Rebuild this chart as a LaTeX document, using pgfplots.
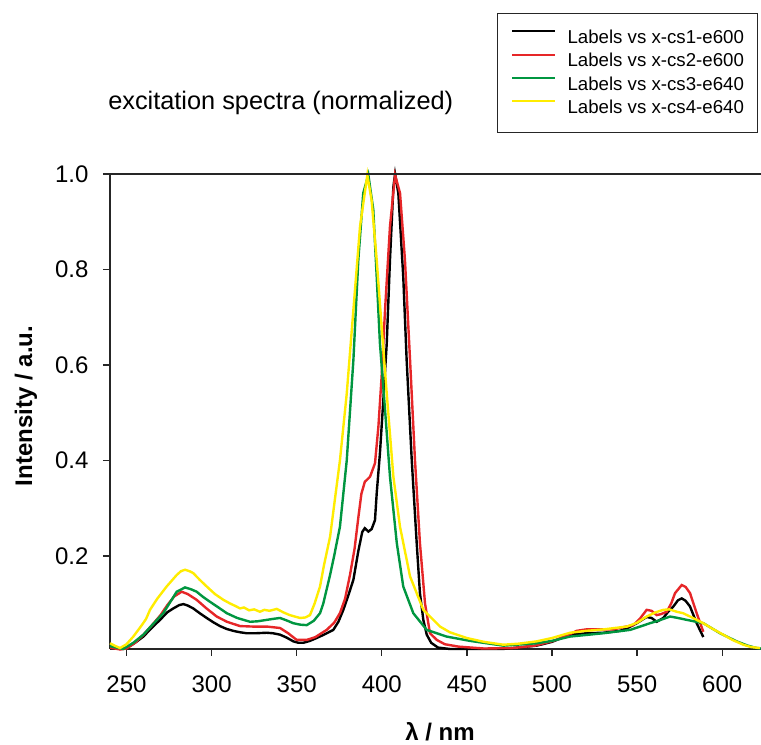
\documentclass[border=0pt]{standalone}
\usepackage{fontspec}
\setmainfont{Liberation Sans}
\usepackage{pgfplots}
\usepackage{pgfplotstable}
\pgfplotsset{compat=1.18}
\definecolor{cred}{RGB}{230,38,40}
\definecolor{cgreen}{RGB}{0,150,64}
\definecolor{cyellow}{RGB}{255,236,0}

\pgfplotstableread{
x y
240.3 0.010
246.2 0.005
250.1 0.007
255 0.018
259.9 0.031
265 0.050
269.7 0.066
274 0.082
277.5 0.090
281 0.097
283.4 0.099
286 0.096
289.2 0.090
293 0.080
297.1 0.070
301 0.061
304.9 0.053
308.8 0.047
312.7 0.043
316.7 0.040
320.6 0.038
326 0.038
332.4 0.039
336 0.038
340.2 0.035
344 0.029
348 0.021
351 0.018
353.9 0.018
357.8 0.022
361.7 0.028
366 0.035
371.5 0.045
374.5 0.062
377.4 0.087
380.4 0.118
383.3 0.150
386.2 0.210
388.5 0.250
390 0.258
392.1 0.251
394 0.256
396 0.275
397 0.331
398.9 0.415
400.9 0.527
402.9 0.645
404.8 0.820
406.8 0.973
407.8 1.000
409.7 0.960
412.6 0.785
414.6 0.610
417.6 0.400
420.5 0.227
422.4 0.122
424.4 0.066
426.4 0.035
429 0.018
433 0.008
440 0.005
452 0.005
471 0.005
491 0.012
500 0.020
510.6 0.035
520.4 0.038
530.1 0.039
540 0.043
545 0.050
549.8 0.059
555.6 0.072
558.5 0.070
561.5 0.062
565.4 0.070
568 0.082
571.3 0.094
574 0.107
576.2 0.111
578.5 0.106
581.1 0.094
585 0.059
588.9 0.030
}\csone

\pgfplotstableread{
x y
240.3 0.008
246.2 0.004
250 0.006
255 0.018
260 0.035
265 0.055
270 0.076
274 0.097
278 0.115
282.4 0.125
286 0.120
291.2 0.108
297 0.090
303 0.073
309 0.062
316.7 0.053
324 0.052
332.4 0.052
340.2 0.049
345 0.038
350 0.024
355.9 0.024
361 0.030
367.6 0.045
372 0.060
375.4 0.080
378.4 0.110
381.3 0.160
384 0.215
386.2 0.280
388 0.330
390 0.355
393.1 0.366
396 0.394
398 0.471
399.9 0.576
401.9 0.715
404.8 0.890
407.8 0.998
410.7 0.960
413.6 0.820
416.6 0.610
419.5 0.400
422.4 0.227
425.4 0.100
428.3 0.038
432.3 0.024
437 0.015
445 0.010
460 0.006
477.3 0.007
490 0.012
500.8 0.022
508 0.032
514.5 0.043
520 0.046
526.2 0.046
536 0.046
541 0.050
547.8 0.055
552 0.070
555.6 0.087
558.5 0.085
561.5 0.076
564 0.078
567.4 0.083
570 0.100
572.3 0.122
576.2 0.139
578.5 0.135
581.1 0.122
585 0.080
588.9 0.041
}\cstwo

\pgfplotstableread{
x y
240.3 0.011
244 0.008
248.1 0.005
254 0.018
259.9 0.035
265 0.055
271.6 0.080
276 0.105
279.5 0.125
284.4 0.134
288 0.130
291.2 0.125
295 0.114
299 0.104
304 0.092
308.9 0.080
315 0.070
322.6 0.062
327 0.063
332.4 0.066
336 0.068
340.2 0.070
344 0.065
348 0.059
352 0.056
355.9 0.055
360 0.064
363.7 0.080
365.6 0.100
369.6 0.160
372 0.200
375.4 0.261
379.4 0.400
383.3 0.610
386.2 0.820
389.1 0.960
392.1 0.998
395 0.925
397 0.785
398.9 0.645
401.9 0.506
404.8 0.366
408.8 0.227
412.6 0.136
418.5 0.080
426.4 0.045
438.1 0.031
451.8 0.022
471.4 0.012
491 0.017
500 0.022
510.6 0.031
530.1 0.038
545.9 0.045
557.6 0.059
563 0.065
569.4 0.073
574 0.070
579.2 0.066
588.9 0.059
598.7 0.038
608.5 0.021
615 0.012
620.3 0.007
622.8 0.006
}\csthree

\pgfplotstableread{
x y
240.3 0.017
243 0.012
246.2 0.007
250 0.015
254 0.031
259 0.055
261.5 0.068
263.8 0.087
268 0.110
273.6 0.136
279.5 0.160
282 0.168
284.4 0.171
287 0.168
289.2 0.164
293 0.150
297.1 0.136
302 0.120
306.9 0.108
311 0.100
314 0.095
316.7 0.090
319 0.092
322 0.086
325 0.088
328.4 0.083
331 0.087
334 0.085
338.3 0.089
342 0.082
345.9 0.076
351.9 0.070
355 0.071
357.8 0.076
360.5 0.100
363.7 0.136
366 0.180
369.6 0.240
372.5 0.320
375.4 0.400
379.4 0.540
383.3 0.715
387.2 0.890
391.5 0.998
394 0.945
397 0.820
399.9 0.680
402.9 0.540
406.8 0.366
410.7 0.261
416.6 0.157
424.4 0.087
434.2 0.052
440 0.040
449.9 0.028
460 0.020
471.4 0.014
480 0.016
491 0.021
500 0.028
510.6 0.039
520 0.043
530.1 0.046
537 0.049
544 0.052
550 0.060
555.6 0.073
561 0.082
565.4 0.087
569 0.088
573.3 0.083
577 0.080
581.1 0.073
588.9 0.059
594 0.048
600.6 0.035
606 0.024
612.4 0.014
617 0.009
622.2 0.007
}\csfour

\begin{document}
\begin{tikzpicture}
\path[use as bounding box] (0,0) rectangle (570.75pt,558.75pt);
\begin{axis}[
  at={(82.5pt,72pt)}, anchor=south west,
  scale only axis, width=488.25pt, height=356.25pt,
  xmin=240.3, xmax=622.8, ymin=0.005, ymax=1.0,
  clip=false,
  axis x line*=bottom, axis y line*=left,
  axis line style={line width=1.1pt, black!85},
  xtick={250,300,350,400,450,500,550,600},
  xticklabels={250,300,350,400,450,500,550,600},
  ytick={0.2,0.4,0.6,0.8,1.0},
  yticklabels={0.2,0.4,0.6,0.8,1.0},
  /pgf/number format/assume math mode=true,
  tick align=outside, major tick length=5.25pt,
  tick style={line width=1pt, black!85},
  tick label style={font=\fontsize{18}{20}\selectfont},
  xticklabel style={anchor=north, inner sep=0pt, yshift=-14.5pt},
  yticklabel style={anchor=east, inner sep=0pt, xshift=-10.75pt},
  legend style={at={(0.5945,1.339)}, anchor=north west, draw=black!85, line width=1pt, fill=white,
    inner xsep=10pt, inner ysep=11pt, row sep=3pt, column sep=8.8pt,
    font=\fontsize{14}{16}\selectfont,
    nodes={inner sep=0pt, text height=11.5pt, text depth=3pt}},
  legend cell align=left,
  legend image code/.code={\draw[#1, line width=1.6pt] (0pt,5pt) -- (32pt,5pt);},
  every axis plot/.append style={line width=1.8pt},
]
\addplot[black, no markers] table {\csone};
\addlegendentry{Labels vs x-cs1-e600\hspace{5pt}}
\addplot[cred, no markers] table {\cstwo};
\addlegendentry{Labels vs x-cs2-e600\hspace{5pt}}
\addplot[cgreen, no markers] table {\csthree};
\addlegendentry{Labels vs x-cs3-e640\hspace{5pt}}
\addplot[cyellow, no markers] table {\csfour};
\addlegendentry{Labels vs x-cs4-e640\hspace{5pt}}
\draw[line width=1.1pt, black!85] (rel axis cs:0,1) -- (rel axis cs:1,1);
\end{axis}
\node[anchor=base west, inner sep=0pt, font=\fontsize{19}{22}\selectfont] at (81pt,476.8pt) {excitation spectra (normalized)};
\node[rotate=90, inner sep=0pt, font=\fontsize{18}{20}\selectfont\bfseries] at (19.5pt,254.25pt) {Intensity / a.u.};
\node[anchor=base, inner sep=0pt, font=\fontsize{18}{20}\selectfont\bfseries] at (330pt,3.5pt) {λ / nm};
\end{tikzpicture}
\end{document}
